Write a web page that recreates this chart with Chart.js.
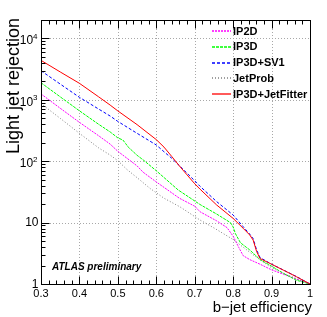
<!DOCTYPE html>
<html>
<head>
<meta charset="utf-8">
<script src="https://cdn.jsdelivr.net/npm/chart.js@4.4.1/dist/chart.umd.min.js"></script>
<style>
    html, body { margin: 0; padding: 0; background: #fff; }
    #c { display: block; }
</style>
</head>
<body>
<canvas id="c" width="327" height="317"></canvas>
<script>
// series names, in legend order
var seriesNames = ["IP2D", "IP3D", "IP3D+SV1", "JetProb", "IP3D+JetFitter"];
var seriesColors = ["#ff00ff", "#00ff00", "#0000ff", "#808080", "#ff0000"];
var seriesDash = [[2, 1], [3, 1], [3, 2], [1, 2], []];

// b-jet efficiency / light jet rejection
var effIP2D = [0.30, 0.35, 0.40, 0.45, 0.48, 0.50, 0.55, 0.566, 0.60, 0.66, 0.70, 0.714, 0.757, 0.784, 0.80, 0.815, 0.826, 0.843, 0.87, 0.90, 0.93, 0.965, 1.0];
var rejIP2D = [1250, 730, 430, 260, 190, 145, 84, 66, 46, 25, 18.5, 15, 10.7, 8.3, 6.0, 3.9, 2.9, 2.5, 2.1, 1.7, 1.45, 1.2, 1.0];

var effIP3D = [0.30, 0.35, 0.40, 0.45, 0.48, 0.50, 0.513, 0.52, 0.527, 0.55, 0.566, 0.60, 0.657, 0.714, 0.757, 0.793, 0.80, 0.806, 0.819, 0.843, 0.87, 0.90, 0.93, 0.965, 1.0];
var rejIP3D = [1900, 1120, 663, 400, 300, 240, 222, 195, 170, 125, 105, 70, 34, 19.7, 13.8, 10, 8.5, 6.6, 4.7, 3.6, 2.5, 1.95, 1.5, 1.15, 1.0];

var effSV1 = [0.30, 0.35, 0.40, 0.45, 0.48, 0.50, 0.55, 0.60, 0.62, 0.64, 0.66, 0.68, 0.70, 0.714, 0.757, 0.80, 0.826, 0.843, 0.852, 0.861, 0.87, 0.90, 0.93, 0.965, 1.0];
var rejSV1 = [2980, 1810, 1100, 708, 545, 445, 285, 184, 143, 112, 85, 64, 48, 39, 22, 13.3, 8.6, 6.5, 5.5, 3.6, 2.7, 2.1, 1.7, 1.32, 1.0];

var effJetProb = [0.30, 0.35, 0.40, 0.45, 0.48, 0.50, 0.523, 0.55, 0.584, 0.62, 0.662, 0.714, 0.75, 0.80, 0.846, 0.877, 0.90, 0.943, 1.0];
var rejJetProb = [870, 500, 285, 165, 126, 102, 74, 54, 36, 25, 18, 11, 8.2, 5.3, 3.2, 2.3, 1.84, 1.39, 1.0];

var effJetFitter = [0.30, 0.35, 0.40, 0.45, 0.48, 0.50, 0.55, 0.60, 0.62, 0.64, 0.66, 0.68, 0.70, 0.714, 0.757, 0.80, 0.826, 0.843, 0.852, 0.861, 0.87, 0.90, 0.93, 0.965, 1.0];
var rejJetFitter = [4400, 2850, 1860, 1120, 822, 660, 395, 225, 170, 120, 84, 60, 43, 35, 19.4, 11.7, 8.1, 6.3, 5.2, 3.4, 2.6, 2.1, 1.69, 1.31, 1.0];

// axis ticks
var xTicks = [0.3, 0.4, 0.5, 0.6, 0.7, 0.8, 0.9, 1.0];
var xTickLabels = ["0.3", "0.4", "0.5", "0.6", "0.7", "0.8", "0.9", "1"];
var yTicks = [1, 10, 100, 1000, 10000];
var yTickBase = ["1", "10", "10", "10", "10"];
var yTickExp = ["", "", "2", "3", "4"];

function pts(xs, ys) {
    var out = [];
    for (var i = 0; i < xs.length; i++) out.push({ x: xs[i], y: ys[i] });
    return out;
}

function seg(ctx, x1, y1, x2, y2) {
    ctx.beginPath();
    ctx.moveTo(x1, y1);
    ctx.lineTo(x2, y2);
    ctx.stroke();
}

var rootFrame = {
    id: "rootFrame",
    beforeDraw: function (chart) {
        var ctx = chart.ctx;
        ctx.save();
        ctx.fillStyle = "#fff";
        ctx.fillRect(0, 0, chart.width, chart.height);
        ctx.restore();
    },
    beforeDatasetsDraw: function (chart) {
        var ctx = chart.ctx, a = chart.chartArea;
        var xs = chart.scales.x, ys = chart.scales.y;
        ctx.save();
        ctx.strokeStyle = "#a8a8a8";
        ctx.lineWidth = 1;
        ctx.setLineDash([1, 2]);
        xTicks.forEach(function (v) {
            var px = Math.round(xs.getPixelForValue(v)) + 0.5;
            if (px <= a.left + 2 || px >= a.right - 2) return;
            seg(ctx, px, a.top, px, a.bottom);
        });
        yTicks.forEach(function (v) {
            var py = Math.round(ys.getPixelForValue(v)) + 0.5;
            if (py <= a.top + 2 || py >= a.bottom - 2) return;
            seg(ctx, a.left, py, a.right, py);
        });
        ctx.restore();
    },
    afterDatasetsDraw: function (chart) {
        var ctx = chart.ctx, a = chart.chartArea;
        var xs = chart.scales.x, ys = chart.scales.y;
        var L = Math.round(a.left) + 0.5, R = Math.round(a.right) + 0.5;
        var T = Math.round(a.top) + 0.5, B = Math.round(a.bottom) + 0.5;
        ctx.save();
        ctx.setLineDash([]);
        ctx.strokeStyle = "#000";
        ctx.lineWidth = 1;
        ctx.strokeRect(L, T, R - L, B - T);

        // x ticks, bottom and top, 0.02 steps
        for (var i = 0; i <= 35; i++) {
            var v = 0.3 + i * 0.02;
            var px = Math.round(xs.getPixelForValue(v)) + 0.5;
            var len = (i % 5 === 0) ? 8 : 4;
            seg(ctx, px, B, px, B - len);
            seg(ctx, px, T, px, T + len);
        }
        // y ticks, log minor
        for (var d = 0; d <= 4; d++) {
            for (var m = 1; m <= 9; m++) {
                var yv = m * Math.pow(10, d);
                if (yv > ys.max) break;
                var py = Math.round(ys.getPixelForValue(yv)) + 0.5;
                seg(ctx, L, py, L + (m === 1 ? 8 : 4), py);
            }
        }

        ctx.fillStyle = "#000";
        // x labels
        ctx.font = "11px 'Liberation Sans', Arial, sans-serif";
        ctx.textAlign = "center";
        ctx.textBaseline = "alphabetic";
        xTicks.forEach(function (v, k) {
            ctx.fillText(xTickLabels[k], xs.getPixelForValue(v), 297);
        });

        // y labels
        yTicks.forEach(function (v, k) {
            var py = ys.getPixelForValue(v);
            var right = 37.5;
            if (yTickExp[k]) {
                ctx.font = "8px 'Liberation Sans', Arial, sans-serif";
                var ew = ctx.measureText(yTickExp[k]).width;
                ctx.textAlign = "right";
                ctx.fillText(yTickExp[k], right, py + 0.5);
                ctx.font = "12px 'Liberation Sans', Arial, sans-serif";
                ctx.fillText(yTickBase[k], right - ew, py + 6);
            } else {
                ctx.font = "12px 'Liberation Sans', Arial, sans-serif";
                ctx.textAlign = "right";
                ctx.textBaseline = "middle";
                ctx.fillText(yTickBase[k], right + 1, py + 0.5);
                ctx.textBaseline = "alphabetic";
            }
        });

        // axis titles
        ctx.font = "15px 'Liberation Sans', Arial, sans-serif";
        ctx.textAlign = "right";
        ctx.fillText("b\u2212jet efficiency", 312, 312);

        ctx.save();
        ctx.translate(18.5, 18);
        ctx.rotate(-Math.PI / 2);
        ctx.font = "18px 'Liberation Sans', Arial, sans-serif";
        ctx.textAlign = "right";
        ctx.fillText("Light jet rejection", 0, 0);
        ctx.restore();

        // ATLAS label
        ctx.font = "italic bold 10px 'Liberation Sans', Arial, sans-serif";
        ctx.textAlign = "left";
        ctx.fillText("ATLAS preliminary", 52, 270);

        // legend
        var rows = [31, 46.75, 62.5, 78.25, 94];
        ctx.font = "bold 11px 'Liberation Sans', Arial, sans-serif";
        ctx.textBaseline = "middle";
        for (var k = 0; k < seriesNames.length; k++) {
            var ry = Math.round(rows[k]);
            ctx.save();
            ctx.lineWidth = 1.3;
            ctx.strokeStyle = seriesColors[k];
            ctx.setLineDash(seriesDash[k]);
            seg(ctx, 212, ry, 231, ry);
            ctx.restore();
            ctx.fillStyle = "#000";
            ctx.fillText(seriesNames[k], 233, rows[k] + 0.5);
        }
        ctx.restore();
    }
};

var effs = [effIP2D, effIP3D, effSV1, effJetProb, effJetFitter];
var rejs = [rejIP2D, rejIP3D, rejSV1, rejJetProb, rejJetFitter];
var drawOrder = [4, 3, 1, 2, 0];
var datasets = [];
for (var s = 0; s < seriesNames.length; s++) {
    datasets.push({
        label: seriesNames[s],
        data: pts(effs[s], rejs[s]),
        borderColor: seriesColors[s],
        borderDash: seriesDash[s],
        order: drawOrder[s]
    });
}

new Chart(document.getElementById("c"), {
    type: "line",
    data: { datasets: datasets },
    options: {
        responsive: false,
        animation: false,
        devicePixelRatio: 1,
        layout: { padding: { left: 41, right: 17, top: 20, bottom: 33 } },
        scales: {
            x: { type: "linear", min: 0.3, max: 1.0, display: false },
            y: { type: "logarithmic", min: 1, max: 20000, display: false }
        },
        plugins: { legend: { display: false }, tooltip: { enabled: false } },
        elements: {
            point: { radius: 0 },
            line: { tension: 0, borderWidth: 1, fill: false }
        }
    },
    plugins: [rootFrame]
});
</script>
</body>
</html>
